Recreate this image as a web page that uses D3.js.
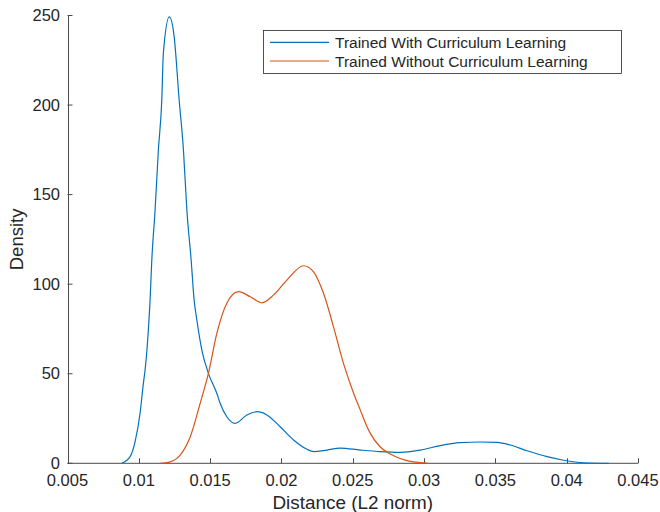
<!DOCTYPE html>
<html>
<head>
<meta charset="utf-8">
<script src="https://cdn.jsdelivr.net/npm/d3@7/dist/d3.min.js"></script>
<style>
  html, body { margin: 0; padding: 0; background: #fff; }
  svg { display: block; }
  text { font-family: "Liberation Sans", Arial, Helvetica, sans-serif; fill: #262626; }
</style>
</head>
<body>
<svg id="chart" width="660" height="512"></svg>
<script>
// ---- Data ----
const seriesNames = ["Trained With Curriculum Learning", "Trained Without Curriculum Learning"];

const withCL_x = [0.00880, 0.00939, 0.00974, 0.01009, 0.01032, 0.01044, 0.01067, 0.01079, 0.01091,
  0.01114, 0.01137, 0.01161, 0.01172, 0.01214, 0.01247, 0.01283, 0.01313, 0.01337, 0.01367, 0.01388,
  0.01407, 0.01442, 0.01488, 0.01547, 0.01570, 0.01617, 0.01675, 0.01758, 0.01828, 0.01898, 0.01991,
  0.02085, 0.02179, 0.02225, 0.02319, 0.02412, 0.02553, 0.02693, 0.02833, 0.02974, 0.03114, 0.03254,
  0.03395, 0.03512, 0.03605, 0.03722, 0.03863, 0.03979, 0.04120, 0.04295];
const withCL_y = [0, 3.7, 12.1, 28.1, 44.6, 52.1, 74.4, 91.1, 113.4,
  141.3, 174.8, 202.7, 228.8, 249.2, 238.8, 202.7, 174.8, 141.3, 113.4, 91.1,
  80.0, 63.2, 50.2, 39.1, 33.5, 26.0, 22.3, 27.0, 28.8, 27.0, 20.4,
  13.0, 7.8, 6.5, 7.4, 8.5, 7.4, 6.5, 6.1, 7.4, 9.9, 11.5,
  11.9, 11.7, 10.2, 7.0, 3.7, 1.7, 0.3, 0];

const withoutCL_x = [0.01149, 0.01184, 0.01219, 0.01290, 0.01360, 0.01430, 0.01488, 0.01547,
  0.01617, 0.01699, 0.01781, 0.01863, 0.01944, 0.02038, 0.02155, 0.02225, 0.02295,
  0.02365, 0.02435, 0.02506, 0.02553, 0.02600, 0.02623, 0.02693, 0.02763, 0.02833, 0.02904, 0.02974, 0.03030];
const withoutCL_y = [0, 0.3, 0.8, 4.6, 14.7, 33.5, 50.2, 72.5,
  89.3, 95.8, 93.0, 89.6, 93.9, 102.3, 110.3, 106.9, 94.9,
  76.2, 55.8, 39.1, 29.7, 20.4, 16.7, 9.1, 5.2, 2.7, 1.1, 0.4, 0];

const xTicks = [0.005, 0.01, 0.015, 0.02, 0.025, 0.03, 0.035, 0.04, 0.045];
const xTickLabels = ["0.005", "0.01", "0.015", "0.02", "0.025", "0.03", "0.035", "0.04", "0.045"];
const yTicks = [0, 50, 100, 150, 200, 250];
const colors = ["#0072BD", "#D95319"];

// ---- Layout ----
(function () {
const svg = d3.select("#chart");
const pL = 67.5, pR = 638, pT = 15.5, pB = 463.3;

const x = d3.scaleLinear().domain([0.005, 0.045]).range([pL, pR]);
const y = d3.scaleLinear().domain([0, 250]).range([pB, pT]);

const axisColor = "#4a4a4a";

// x axis
const gx = svg.append("g").attr("transform", `translate(0,${pB})`);
gx.append("line").attr("x1", pL).attr("x2", pR).attr("y1", 0).attr("y2", 0)
  .attr("stroke", axisColor).attr("stroke-width", 1);
xTicks.forEach((t, i) => {
  const px = Math.round(x(t)) + 0.5;
  gx.append("line").attr("x1", px).attr("x2", px).attr("y1", 0).attr("y2", -5)
    .attr("stroke", axisColor).attr("stroke-width", 1);
  gx.append("text").attr("x", x(t)).attr("y", 22.5).attr("text-anchor", "middle")
    .attr("font-size", "16.5px").text(xTickLabels[i]);
});

// y axis
const gy = svg.append("g");
gy.append("line").attr("x1", Math.round(pL) + 0.5).attr("x2", Math.round(pL) + 0.5)
  .attr("y1", pT).attr("y2", pB).attr("stroke", axisColor).attr("stroke-width", 1);
yTicks.forEach(t => {
  const py = y(t);
  gy.append("line").attr("x1", pL).attr("x2", pL + 5).attr("y1", py).attr("y2", py)
    .attr("stroke", axisColor).attr("stroke-width", 1);
  gy.append("text").attr("x", 60).attr("y", py + 5.5).attr("text-anchor", "end")
    .attr("font-size", "16.5px").text(t);
});

// axis labels
svg.append("text").attr("x", (pL + pR) / 2).attr("y", 509).attr("text-anchor", "middle")
  .attr("font-size", "18.9px").text("Distance (L2 norm)");
svg.append("text").attr("transform", `translate(23,${(pT + pB) / 2}) rotate(-90)`)
  .attr("text-anchor", "middle").attr("font-size", "18.5px").text("Density");

// curves
const line = d3.line().x(d => x(d[0])).y(d => y(d[1])).curve(d3.curveMonotoneX);
const series = [
  d3.zip(withCL_x, withCL_y),
  d3.zip(withoutCL_x, withoutCL_y)
];
series.forEach((s, i) => {
  svg.append("path").datum(s).attr("d", line).attr("fill", "none")
    .attr("stroke", colors[i]).attr("stroke-width", 1.2).attr("stroke-linejoin", "round");
});

// legend
const lg = svg.append("g");
lg.append("rect").attr("x", 263.5).attr("y", 30.5).attr("width", 358).attr("height", 43)
  .attr("fill", "#fff").attr("stroke", "#262626").attr("stroke-width", 0.8);
const legendY = [42.3, 61];
seriesNames.forEach((name, i) => {
  lg.append("line").attr("x1", 270).attr("x2", 329).attr("y1", legendY[i]).attr("y2", legendY[i])
    .attr("stroke", colors[i]).attr("stroke-width", 1.2);
  lg.append("text").attr("x", 335).attr("y", legendY[i] + 5.5).attr("font-size", "15.5px").text(name);
});
})();
</script>
</body>
</html>
